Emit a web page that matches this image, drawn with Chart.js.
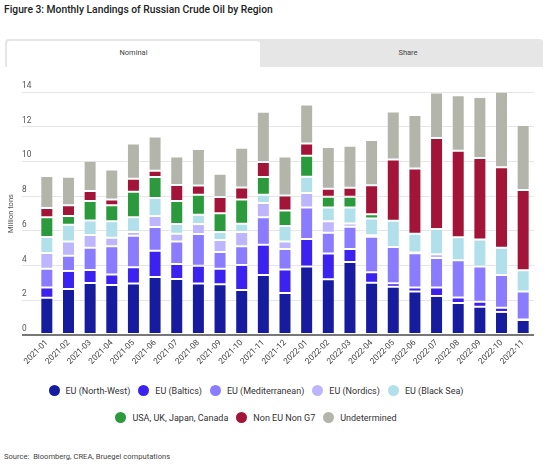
<!DOCTYPE html>
<html>
<head>
<meta charset="utf-8">
<script src="https://cdn.jsdelivr.net/npm/chart.js@4.4.1/dist/chart.umd.min.js"></script>
<style>
  body { margin: 0; width: 550px; height: 464px; background: #fff; font-family: Roboto, "Noto Sans", sans-serif; position: relative; overflow: hidden; }
  #title { position: absolute; left: 4px; top: 3px; font-size: 10.3px; font-weight: 500; color: #222; }
  #tabs { position: absolute; left: 5px; top: 39px; width: 538px; height: 28px; background: #e6e6e6; border-radius: 4px 4px 0 0; }
  .tab { position: absolute; top: 2px; height: 26px; line-height: 24px; text-align: center; font-size: 7.5px; color: #444; }
  #tab-nominal { left: 2px; width: 253px; background: #fff; border-radius: 3px 3px 0 0; }
  #tab-share { left: 270px; width: 266px; }
  #chart-box { position: absolute; left: 0; top: 68px; width: 550px; height: 299px; }
  #legend { position: absolute; left: 0; top: 385px; width: 512px; }
  .lrow { display: flex; justify-content: center; gap: 8px; height: 27px; align-items: flex-start; }
  .litem { display: flex; align-items: center; font-size: 9px; color: #333; height: 11px; }
  .dot { width: 11px; height: 11px; border-radius: 50%; margin-right: 6px; }
  #source { position: absolute; left: 4px; top: 452px; font-size: 7.6px; color: #444; }
</style>
</head>
<body>
<div id="title">Figure 3: Monthly Landings of Russian Crude Oil by Region</div>
<div id="tabs">
  <div class="tab" id="tab-nominal">Nominal</div>
  <div class="tab" id="tab-share">Share</div>
</div>
<div id="chart-box"><canvas id="chart"></canvas></div>
<div id="legend"></div>
<div id="source">Source:&nbsp; Bloomberg, CREA, Bruegel computations</div>

<script>
// --- DATA (million tons) ---
const months = ['2021-01','2021-02','2021-03','2021-04','2021-05','2021-06','2021-07','2021-08','2021-09','2021-10','2021-11','2021-12',
                '2022-01','2022-02','2022-03','2022-04','2022-05','2022-06','2022-07','2022-08','2022-09','2022-10','2022-11'];

const euNorthWest = [2.15, 2.65, 2.99, 2.88, 2.96, 3.34, 3.22, 2.96, 2.92, 2.59, 3.45, 2.42, 3.95, 3.21, 4.20, 3.01, 2.78, 2.50, 2.25, 1.84, 1.63, 1.33, 0.86];
const euBaltics = [0.59, 1.04, 0.75, 0.61, 0.94, 1.52, 0.87, 1.03, 0.90, 1.44, 1.75, 1.36, 1.58, 1.49, 0.75, 0.60, 0.20, 0.24, 0.49, 0.32, 0.29, 0.24, 0.04];
const euMediterranean = [1.08, 0.88, 1.29, 1.62, 1.82, 1.36, 1.30, 1.83, 0.96, 1.09, 1.58, 1.17, 1.82, 1.19, 1.29, 2.05, 2.09, 1.97, 1.70, 2.15, 2.03, 1.88, 1.60];
const euNordics = [0.90, 0.82, 0.73, 0.49, 0.21, 0.63, 0.44, 0.57, 0.69, 0.81, 0.82, 0.44, 0.83, 0.67, 0.19, 0.09, 0, 0.05, 0.21, 0, 0, 0, 0];
const euBlackSea = [0.92, 0.96, 0.84, 0.95, 0.85, 1.04, 0.56, 0.54, 0.46, 0.48, 0.48, 0.89, 0.94, 0.79, 0.92, 0.96, 1.51, 1.08, 1.46, 1.32, 1.55, 1.57, 1.23];
const g7Other = [1.14, 0.50, 1.12, 0.92, 1.47, 1.21, 1.33, 1.15, 1.09, 1.40, 1.02, 0.90, 1.21, 0.62, 0.62, 0.25, 0, 0, 0, 0, 0, 0, 0];
const nonEuNonG7 = [0.53, 0.62, 0.57, 0.34, 0.75, 0.36, 0.92, 0.54, 0.93, 0.69, 0.86, 0.86, 0.71, 0.46, 0.51, 1.67, 3.53, 3.75, 5.24, 4.99, 4.70, 4.64, 4.63];
const undetermined = [1.85, 1.65, 1.75, 1.73, 2.04, 1.98, 1.65, 2.09, 1.34, 2.29, 2.90, 2.25, 2.24, 2.40, 2.42, 2.61, 2.77, 3.09, 2.62, 3.19, 3.51, 4.36, 3.74];

const yTicks = [0, 2, 4, 6, 8, 10, 12, 14];

const seriesNames = ['EU (North-West)', 'EU (Baltics)', 'EU (Mediterranean)', 'EU (Nordics)', 'EU (Black Sea)',
                     'USA, UK, Japan, Canada', 'Non EU Non G7', 'Undetermined'];
const seriesValues = [euNorthWest, euBaltics, euMediterranean, euNordics, euBlackSea, g7Other, nonEuNonG7, undetermined];
const seriesColors = ['#171c9f', '#3b22f0', '#8a7bff', '#bdb5fd', '#b1dfea', '#2a9a3c', '#a31538', '#b3b5ab'];

// --- CHART ---
const ctx = document.getElementById('chart').getContext('2d');
const FONT = 'Roboto, "Noto Sans", sans-serif';

const chart = new Chart(ctx, {
    type: 'bar',
    data: {
        labels: months,
        datasets: seriesNames.map((name, i) => ({
            label: name,
            data: seriesValues[i],
            backgroundColor: seriesColors[i],
            borderColor: 'rgba(255,255,255,0.35)',
            borderWidth: 1,
            borderSkipped: false,
            barPercentage: 0.6,
            categoryPercentage: 1
        }))
    },
    options: {
        responsive: true,
        maintainAspectRatio: false,
        animation: false,
        layout: { padding: { top: 24, right: 16, left: 0, bottom: 0 } },
        plugins: { legend: { display: false }, tooltip: { enabled: false } },
        scales: {
            x: {
                stacked: true,
                grid: { display: false, drawTicks: false },
                border: { display: false },
                ticks: {
                    autoSkip: false, minRotation: 45, maxRotation: 45, padding: 3,
                    color: '#444', font: { family: FONT, size: 8.3 }
                },
                afterFit: s => { s.height = 32; }
            },
            y: {
                stacked: true,
                min: 0, max: 14,
                afterBuildTicks: s => { s.ticks = yTicks.map(v => ({ value: v })); },
                grid: {
                    color: c => c.tick && c.tick.value === 0 ? '#777' : '#e6e6e6',
                    lineWidth: c => c.tick && c.tick.value === 0 ? 2 : 1,
                    drawTicks: true, tickLength: 14
                },
                border: { display: false },
                ticks: {
                    mirror: true, padding: -14, labelOffset: -6,
                    color: '#555', font: { family: FONT, size: 8.3 }
                },
                title: {
                    display: true, text: 'Million tons', color: '#555',
                    font: { family: FONT, size: 7.5 }, padding: { top: 7, bottom: 0 }
                },
                afterFit: s => { s.width = 36; }
            }
        }
    }
});

// --- LEGEND (two rows like the original) ---
const legendRows = [[0, 1, 2, 3, 4], [5, 6, 7]];
const legend = document.getElementById('legend');
legendRows.forEach(row => {
    const r = document.createElement('div');
    r.className = 'lrow';
    row.forEach(i => {
        const it = document.createElement('div');
        it.className = 'litem';
        it.innerHTML = '<span class="dot" style="background:' + seriesColors[i] + '"></span>' + seriesNames[i];
        r.appendChild(it);
    });
    legend.appendChild(r);
});
</script>
</body>
</html>
